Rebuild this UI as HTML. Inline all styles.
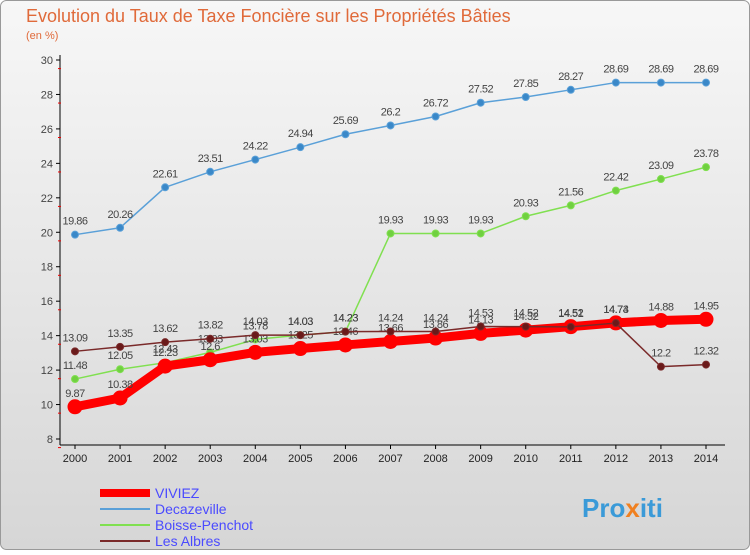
<!DOCTYPE html>
<html><head><meta charset="utf-8"><style>
body{margin:0;width:750px;height:550px;overflow:hidden;font-family:"Liberation Sans",sans-serif}
svg text{font-family:"Liberation Sans",sans-serif}
</style></head><body>
<svg id="c" width="750" height="550" xmlns="http://www.w3.org/2000/svg">
<defs><linearGradient id="bg" x1="0" y1="0" x2="0" y2="1"><stop offset="0" stop-color="#f7f7f7"/><stop offset="1" stop-color="#d6d6d6"/></linearGradient></defs>
<rect x="0.5" y="0.5" width="749" height="549" rx="6" fill="url(#bg)" stroke="#999"/>
<text x="26" y="22" font-size="18" fill="#e06a3a">Evolution du Taux de Taxe Foncière sur les Propriétés Bâties</text>
<text x="26" y="39" font-size="11" fill="#e06a3a">(en %)</text>
<g id="axes"></g><g id="series"></g>
<g>
<line x1="100" y1="493" x2="150" y2="493" stroke="#f00" stroke-width="8"/>
<text x="155" y="498" font-size="14" fill="#4a4aff">VIVIEZ</text>
<line x1="100" y1="509" x2="150" y2="509" stroke="#5aa0d8" stroke-width="2"/>
<text x="155" y="514" font-size="14" fill="#4a4aff">Decazeville</text>
<line x1="100" y1="525" x2="150" y2="525" stroke="#80e050" stroke-width="2"/>
<text x="155" y="530" font-size="14" fill="#4a4aff">Boisse-Penchot</text>
<line x1="100" y1="541" x2="150" y2="541" stroke="#7a2a2a" stroke-width="2"/>
<text x="155" y="546" font-size="14" fill="#4a4aff">Les Albres</text>
</g>
<text x="582" y="517" font-size="26" font-weight="bold" fill="#3a9ad8">Pro<tspan fill="#f08020">x</tspan>iti</text>
</svg>
<script>
const years=[2000,2001,2002,2003,2004,2005,2006,2007,2008,2009,2010,2011,2012,2013,2014];
const yTicks=[8,10,12,14,16,18,20,22,24,26,28,30];
const viviez=[9.87,10.38,12.23,12.6,13.03,13.25,13.46,13.66,13.86,14.13,14.32,14.52,14.74,14.88,14.95];
const decazeville=[19.86,20.26,22.61,23.51,24.22,24.94,25.69,26.2,26.72,27.52,27.85,28.27,28.69,28.69,28.69];
const boisse=[11.48,12.05,12.43,13.03,13.78,14.03,14.23,19.93,19.93,19.93,20.93,21.56,22.42,23.09,23.78];
const albres=[13.09,13.35,13.62,13.82,14.03,14.03,14.23,14.24,14.24,14.53,14.52,14.51,14.73,12.2,12.32];
const NS="http://www.w3.org/2000/svg";
const X=y=>75+(y-2000)*(706-75)/14, Y=v=>439-(v-8)*(439-60)/22;
function mk(p,t,a){const e=document.createElementNS(NS,t);for(const k in a)e.setAttribute(k,a[k]);p.appendChild(e);return e;}
const ax=document.getElementById('axes');
mk(ax,'line',{x1:60,y1:55,x2:60,y2:445,stroke:'#000'});
mk(ax,'line',{x1:60,y1:445,x2:725,y2:445,stroke:'#000'});
yTicks.forEach(v=>{const y=Y(v);
 const l=mk(ax,'line',{x1:56,y1:y,x2:60,y2:y,stroke:'#000'});
 
 
 const t=mk(ax,'text',{x:53,y:y+4,'font-size':11,'text-anchor':'end',fill:'#444'});t.textContent=v;
 
 
 mk(ax,'line',{x1:58,y1:y+8.6,x2:61,y2:y+8.6,stroke:'#e00'});
});
years.forEach(yr=>{const x=X(yr);
 mk(ax,'line',{x1:x,y1:445,x2:x,y2:449,stroke:'#000'});
 const t=mk(ax,'text',{x:x,y:462,'font-size':11,'text-anchor':'middle',fill:'#222'});t.textContent=yr;
 
 
});
const sg=document.getElementById('series');
function series(name,data,color,w,r,dot){
 const g=mk(sg,'g',{});
 
 
 mk(g,'polyline',{points:data.map((v,i)=>X(years[i])+','+Y(v)).join(' '),fill:'none',stroke:color,'stroke-width':w,'stroke-linejoin':'round'});
 data.forEach((v,i)=>{
  const c=mk(g,'circle',{cx:X(years[i]),cy:Y(v),r:r,fill:dot,stroke:color,'stroke-width':1});
  
  
  const t=mk(g,'text',{x:X(years[i]),y:Y(v)-10,'font-size':11,'text-anchor':'middle',fill:'#444','letter-spacing':'-0.5'});
  t.textContent=v;
  
  
 });
}
series('decazeville',decazeville,'#5aa0d8',1.5,3.5,'#3a88c8');
series('boisse-penchot',boisse,'#80e050',1.5,3.5,'#70d040');
series('viviez',viviez,'#f00',9,7,'#f00');
series('les-albres',albres,'#7a2a2a',1.5,3.5,'#6a1a1a');
</script>
</body></html>
